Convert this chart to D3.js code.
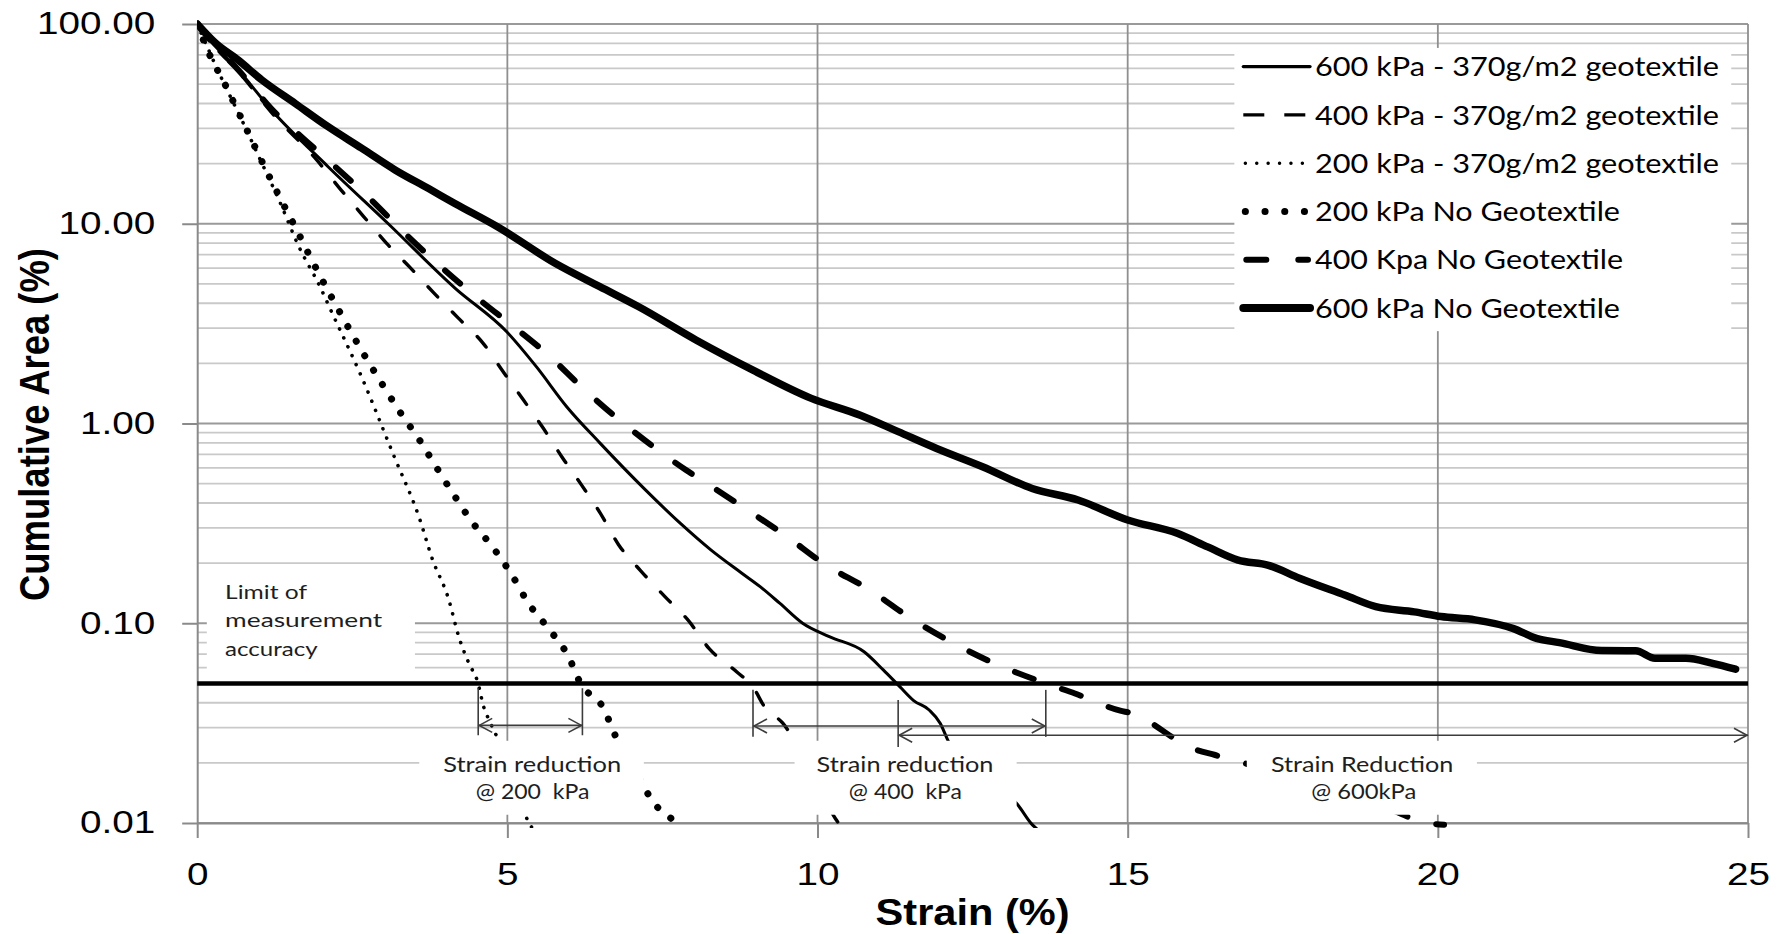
<!DOCTYPE html>
<html><head><meta charset="utf-8">
<script src="https://cdn.jsdelivr.net/npm/d3@7"></script>
<style>
html,body{margin:0;padding:0;background:#fff;}
svg{display:block;}
text{white-space:pre;}
</style></head><body>
<svg id="chart" width="1777" height="934"></svg>
<script>
// ---------------- data ----------------
const strain600Geo = [0, 0.3, 0.66, 1.2, 2.11, 3.08, 4.16, 4.99, 5.47, 5.96, 6.49, 7.23, 7.79, 8.28, 8.78, 9.08, 9.39, 9.76, 10.19, 10.75, 11.06, 11.33, 11.55, 11.8, 11.98, 12.1, 12.6, 13.24, 13.45, 13.6];
const area600Geo   = [100, 77, 59, 37, 19.3, 10, 4.75, 2.88, 1.92, 1.21, 0.8, 0.464, 0.316, 0.233, 0.178, 0.152, 0.126, 0.1, 0.0857, 0.072, 0.0584, 0.048, 0.041, 0.0368, 0.0315, 0.026, 0.018, 0.0122, 0.0099, 0.009];

const strain400Geo = [0, 0.3, 0.66, 1.2, 1.93, 2.3, 2.68, 3.05, 3.43, 3.81, 4.21, 4.61, 4.93, 5.26, 5.58, 5.88, 6.2, 6.5, 6.79, 7.15, 7.54, 7.92, 8.25, 8.7, 8.96, 9.15, 9.44, 9.9, 10.29, 10.45];
const area400Geo   = [100, 76, 58, 36, 20.8, 15, 10.9, 8.0, 6.05, 4.52, 3.37, 2.52, 1.82, 1.31, 0.946, 0.68, 0.49, 0.355, 0.248, 0.183, 0.136, 0.103, 0.0748, 0.057, 0.048, 0.038, 0.0316, 0.018, 0.0105, 0.009];

const strain200Geo = [0, 0.38, 0.72, 1.03, 1.33, 1.64, 1.98, 2.17, 2.64, 3.17, 3.58, 3.79, 4.05, 4.22, 4.38, 4.52, 4.62, 4.7, 4.82, 5.1, 5.35, 5.45];
const area200Geo   = [100, 54.5, 33, 20.5, 12.9, 7.67, 4.84, 3.6, 1.74, 0.69, 0.337, 0.21, 0.133, 0.085, 0.063, 0.051, 0.038, 0.033, 0.0275, 0.016, 0.01, 0.009];

const strain200NoGeo = [0, 0.19, 0.44, 0.66, 0.88, 1.11, 1.35, 1.59, 1.82, 2.06, 2.31, 2.71, 2.99, 3.27, 3.58, 3.85, 4.14, 4.43, 4.77, 5.07, 5.34, 5.67, 5.98, 6.18, 6.55, 6.75, 7.0, 7.26, 7.42, 7.63, 7.75];
const area200NoGeo   = [100, 71.3, 50.5, 36.4, 26.2, 18.6, 13.2, 9.5, 6.84, 4.93, 3.56, 2.16, 1.56, 1.14, 0.83, 0.608, 0.438, 0.322, 0.239, 0.175, 0.126, 0.0935, 0.0686, 0.05, 0.0375, 0.027, 0.02, 0.0141, 0.012, 0.0106, 0.0098];

const strain400NoGeo = [0, 0.3, 0.66, 1.2, 1.66, 2.21, 2.79, 3.32, 3.88, 4.59, 5.07, 5.66, 6.22, 7.0, 7.88, 8.22, 8.87, 9.51, 10.13, 10.84, 11.46, 12.14, 12.85, 13.68, 14.15, 14.88, 15.07, 15.37, 15.71, 16.04, 16.41, 16.87, 17.5, 18.5, 19.3, 19.7, 20.1];
const area400NoGeo   = [100, 77, 59, 37.5, 27.6, 19.5, 13.3, 9.12, 6.28, 4.07, 3.11, 2.2, 1.5, 0.93, 0.585, 0.5, 0.369, 0.271, 0.196, 0.147, 0.108, 0.081, 0.063, 0.05, 0.0445, 0.0365, 0.0354, 0.0318, 0.027, 0.0237, 0.0219, 0.02, 0.017, 0.0135, 0.0115, 0.0102, 0.0098];

const strain600NoGeo = [0, 0.3, 0.66, 1.04, 1.58, 2.11, 2.65, 3.19, 3.73, 4.16, 4.84, 5.77, 6.49, 7.11, 8.04, 8.96, 9.89, 10.69, 11.3, 11.92, 12.66, 13.46, 14.2, 15.0, 15.8, 16.29, 16.78, 17.27, 17.77, 18.51, 19.0, 19.62, 20.05, 20.6, 21.22, 21.59, 21.96, 22.64, 23.19, 23.5, 24.0, 24.43, 24.8];
const area600NoGeo   = [100, 80, 66, 52.5, 40, 30.6, 23.9, 18.6, 15.0, 12.6, 9.66, 6.34, 4.84, 3.85, 2.62, 1.85, 1.34, 1.1, 0.91, 0.75, 0.608, 0.473, 0.414, 0.329, 0.282, 0.241, 0.207, 0.195, 0.168, 0.138, 0.121, 0.114, 0.108, 0.104, 0.094, 0.084, 0.08, 0.073, 0.0728, 0.0668, 0.0668, 0.063, 0.0589];

const seriesNames = ["600 kPa - 370g/m2 geotextile", "400 kPa - 370g/m2 geotextile", "200 kPa - 370g/m2 geotextile",
                     "200 kPa No Geotextile", "400 Kpa No Geotextile", "600 kPa No Geotextile"];
const xTicks = [0, 5, 10, 15, 20, 25];
const yTicks = [100, 10, 1, 0.1, 0.01];
const limitValue = 0.05;
const limitLabel = ["Limit of", "measurement", "accuracy"];
// strain-reduction annotations: start/end strain of each arrow (where curves cross the limit)
const reductionFrom = [4.53, 8.96, 11.30];
const reductionTo   = [6.21, 13.68, 25];
const reductionText = [["Strain reduction", "@ 200  kPa"], ["Strain reduction", "@ 400  kPa"], ["Strain Reduction", "@ 600kPa"]];

// ---------------- layout / styles ----------------
const svg = d3.select("#chart");
const x = d3.scaleLinear().domain([0, 25]).range([197.2, 1748]);
const y = d3.scaleLog().domain([0.01, 100]).range([823, 24]);

const styles = [
  {w: 3,   dash: null,      cap: "round", lw: 3.3, ldash: null,       lcap: "round"},   // 600 geo
  {w: 3.4, dash: "14 21",   cap: "round", lw: 3.3, ldash: "21 20",    lcap: "butt"},    // 400 geo
  {w: 3.6, dash: "0.1 9.8", cap: "round", lw: 3.4, ldash: "0.1 11.3", lcap: "round"},   // 200 geo
  {w: 7,   dash: "0.1 16.8",cap: "round", lw: 7,   ldash: "0.1 19.6", lcap: "round"},   // 200 no geo
  {w: 6,   dash: "20 30",   cap: "round", lw: 6,   ldash: "20 32",    lcap: "round"},   // 400 no geo
  {w: 7.5, dash: null,      cap: "round", lw: 8,   ldash: null,       lcap: "round"}    // 600 no geo
];
const seriesX = [strain600Geo, strain400Geo, strain200Geo, strain200NoGeo, strain400NoGeo, strain600NoGeo];
const seriesY = [area600Geo, area400Geo, area200Geo, area200NoGeo, area400NoGeo, area600NoGeo];

function stretch(sel, width) {
  sel.attr("textLength", width).attr("lengthAdjust", "spacingAndGlyphs");
}

// ---------------- gridlines ----------------
const grid = svg.append("g");
const minorVals = [];
[0.01, 0.1, 1, 10].forEach(d => { for (let k = 2; k <= 9; k++) minorVals.push(+(k * d).toPrecision(3)); });
grid.selectAll(".minor").data(minorVals).join("line")
  .attr("x1", x(0)).attr("x2", x(25)).attr("y1", d => y(d)).attr("y2", d => y(d))
  .attr("stroke", "#c9c9c9").attr("stroke-width", 1.8);
grid.selectAll(".major").data(yTicks).join("line")
  .attr("x1", x(0)).attr("x2", x(25)).attr("y1", d => y(d)).attr("y2", d => y(d))
  .attr("stroke", "#9a9a9a").attr("stroke-width", 2);
grid.selectAll(".vgrid").data(xTicks.filter(d => d > 0)).join("line")
  .attr("x1", d => x(d)).attr("x2", d => x(d)).attr("y1", y(100)).attr("y2", y(0.01))
  .attr("stroke", "#8f8f8f").attr("stroke-width", 1.8);

// ---------------- axes ----------------
const axisColor = "#8a8a8a";
const yAxisG = svg.append("g").attr("transform", `translate(${x(0)},0)`)
  .call(d3.axisLeft(y).tickValues(yTicks).tickFormat(d3.format(".2f")).tickSize(15).tickSizeOuter(0).tickPadding(27));
const xAxisG = svg.append("g").attr("transform", `translate(0,${y(0.01)})`)
  .call(d3.axisBottom(x).tickValues(xTicks).tickFormat(d3.format("d")).tickSize(15).tickSizeOuter(0).tickPadding(25));
[yAxisG, xAxisG].forEach(g => {
  g.select(".domain").attr("stroke", axisColor).attr("stroke-width", 2);
  g.selectAll(".tick line").attr("stroke", axisColor).attr("stroke-width", 2);
  g.selectAll(".tick text").attr("fill", "#000")
    .style("font-family", "'Liberation Sans', Arial, sans-serif").style("font-size", "30.7px")
    .each(function () { const w = this.getComputedTextLength(); stretch(d3.select(this), w * 1.26); });
});

// ---------------- limit line ----------------
svg.append("line").attr("x1", x(0)).attr("x2", x(25)).attr("y1", y(limitValue)).attr("y2", y(limitValue))
  .attr("stroke", "#000").attr("stroke-width", 4.5);

// ---------------- series ----------------
svg.append("defs").append("clipPath").attr("id", "plotclip").append("rect")
  .attr("x", x(0)).attr("y", y(100) - 6).attr("width", x(25) - x(0) + 4).attr("height", y(0.01) - y(100) + 11);
const line = d3.line().x(d => x(d[0])).y(d => y(d[1])).curve(d3.curveMonotoneX);
const seriesG = svg.append("g").attr("clip-path", "url(#plotclip)");
seriesX.forEach((xs, i) => {
  const pts = xs.map((v, j) => [v, seriesY[i][j]]);
  const st = styles[i];
  seriesG.append("path").datum(pts).attr("d", line)
    .attr("fill", "none").attr("stroke", "#000").attr("stroke-width", st.w)
    .attr("stroke-linecap", st.cap).attr("stroke-linejoin", "round")
    .attr("stroke-dasharray", st.dash);
});

// ---------------- white label boxes ----------------
const boxTop = y(0.0258), boxBot = y(0.011);
const reductionBoxL = [3.58, 9.63, 16.92];
const reductionBoxR = [7.2, 13.21, 20.63];
const reductionCx = [5.4, 11.41, 18.78];
reductionBoxL.forEach((l, i) => {
  svg.append("rect").attr("x", x(l)).attr("y", boxTop).attr("width", x(reductionBoxR[i]) - x(l))
    .attr("height", boxBot - boxTop).attr("fill", "#fff");
});
// limit label box
svg.append("rect").attr("x", x(0.155)).attr("y", y(0.181)).attr("width", x(3.51) - x(0.155))
  .attr("height", y(0.052) - y(0.181)).attr("fill", "#fff");
// legend box
const legL = x(16.72), legR = x(24.73), legT = y(75.9), legB = y(2.9);
svg.append("rect").attr("x", legL).attr("y", legT).attr("width", legR - legL).attr("height", legB - legT).attr("fill", "#fff");

// ---------------- arrows ----------------
const arrowColor = "#3c3c3c";
const arrowY = [0.0308, 0.0306, 0.0275];
const vTop = [0.0473, 0.0464, 0.0413];
const vBot = [0.0275, 0.027, 0.024];
const arrows = svg.append("g").attr("stroke", arrowColor).attr("stroke-width", 1.6).attr("fill", "none");
reductionFrom.forEach((a, i) => {
  const b = reductionTo[i], yy = y(arrowY[i]);
  arrows.append("line").attr("x1", x(a)).attr("x2", x(a)).attr("y1", y(vTop[i])).attr("y2", y(vBot[i]));
  if (b < 25) arrows.append("line").attr("x1", x(b)).attr("x2", x(b)).attr("y1", y(vTop[i])).attr("y2", y(vBot[i]));
  arrows.append("line").attr("x1", x(a)).attr("x2", x(b)).attr("y1", yy).attr("y2", yy);
  arrows.append("path").attr("d", `M${x(a) + 14},${yy - 7}L${x(a) + 1},${yy}L${x(a) + 14},${yy + 7}`);
  arrows.append("path").attr("d", `M${x(b) - 14},${yy - 7}L${x(b) - 1},${yy}L${x(b) - 14},${yy + 7}`);
});

// ---------------- annotation texts ----------------
const annFont = "Lato, 'Open Sans', sans-serif";
const redW1 = [178, 177, 182.5], redW2 = [113.7, 113, 105];
reductionText.forEach((lines, i) => {
  const t1 = svg.append("text").attr("x", x(reductionCx[i])).attr("y", y(0.01) - 51.3)
    .attr("text-anchor", "middle").style("font-family", annFont).style("font-size", "21px").attr("fill", "#1e1e1e").text(lines[0]);
  stretch(t1, redW1[i]);
  const t2 = svg.append("text").attr("x", x(reductionCx[i]) + (i === 2 ? 1.6 : 0.4)).attr("y", y(0.01) - 24.5)
    .attr("text-anchor", "middle").style("font-family", annFont).style("font-size", "21px").attr("fill", "#1e1e1e").text(lines[1]);
  stretch(t2, redW2[i]);
});
const limW = [82, 157, 92.6];
limitLabel.forEach((s, i) => {
  const t = svg.append("text").attr("x", x(0.45)).attr("y", y(limitValue) - 84.4 + i * 28.35)
    .style("font-family", annFont).style("font-size", "19.5px").attr("fill", "#1e1e1e").text(s);
  stretch(t, limW[i]);
});

// ---------------- legend ----------------
const legRowY0 = legT + 18.7, legStep = 48.3;
const legW = [404, 404, 404, 305, 308, 305];
seriesNames.forEach((name, i) => {
  const ry = legRowY0 + i * legStep;
  const st = styles[i];
  const x1 = (st.ldash && st.ldash.startsWith("0.1")) ? 1245.3 : (st.lcap === "round" && st.ldash ? 1246.3 : 1243.3);
  const x2 = (i === 4) ? 1308 : 1310;
  svg.append("line").attr("x1", x1).attr("x2", x2).attr("y1", ry).attr("y2", ry)
    .attr("stroke", "#000").attr("stroke-width", st.lw).attr("stroke-linecap", st.lcap)
    .attr("stroke-dasharray", st.ldash);
  const t = svg.append("text").attr("x", 1315).attr("y", ry + 9.6)
    .style("font-family", annFont).style("font-size", "26.5px").attr("fill", "#000").text(name);
  stretch(t, legW[i]);
});

// ---------------- axis titles ----------------
const xt = svg.append("text").attr("x", (x(0) + x(25)) / 2).attr("y", 925).attr("text-anchor", "middle")
  .style("font-family", "'Liberation Sans', Arial, sans-serif").style("font-weight", "bold").style("font-size", "37px")
  .attr("fill", "#000").text("Strain (%)");
stretch(xt, 194);
const yt = svg.append("text").attr("transform", `translate(49,${(y(100) + y(0.01)) / 2 + 1}) scale(1.3,1) rotate(-90)`)
  .attr("text-anchor", "middle")
  .style("font-family", "'Liberation Sans', Arial, sans-serif").style("font-weight", "bold").style("font-size", "33px")
  .attr("fill", "#000").text("Cumulative Area (%)");
stretch(yt, 353);
</script>
</body></html>
